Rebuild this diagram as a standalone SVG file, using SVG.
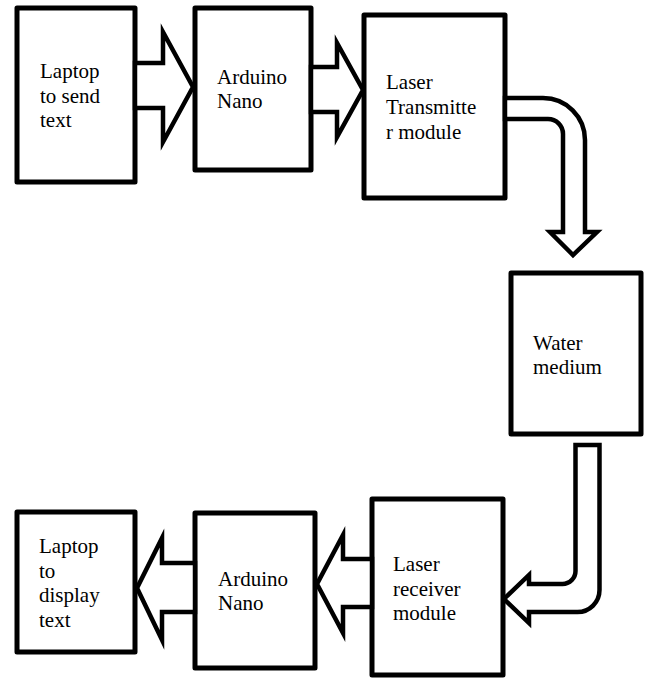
<svg xmlns="http://www.w3.org/2000/svg" width="646" height="679" viewBox="0 0 646 679" font-family="'Liberation Serif', 'Times New Roman', serif" font-size="21">
<style>
.box{fill:#fff;stroke:#000;stroke-width:5;stroke-linejoin:round}
.arr{fill:#fff;stroke:#000;stroke-width:4.5;stroke-linejoin:miter;stroke-miterlimit:10}
.t{font-family:'Liberation Serif','Times New Roman',serif;font-size:21px;fill:#000}
</style>
<rect width="646" height="679" fill="#fff"/>
<g id="node-laptop-send"><rect class="box" x="17" y="8" width="118" height="174"/>
<text class="t" x="40" y="78">Laptop</text><text class="t" x="40" y="102.5">to send</text><text class="t" x="40" y="127">text</text></g>
<g id="node-arduino-1"><rect class="box" x="195" y="8" width="116" height="162"/>
<text class="t" x="217" y="84">Arduino</text><text class="t" x="217" y="108">Nano</text></g>
<g id="node-laser-tx"><rect class="box" x="364" y="15" width="141" height="183"/>
<text class="t" x="386" y="89">Laser</text><text class="t" x="386" y="114">Transmitte</text><text class="t" x="386" y="139">r module</text></g>
<g id="node-water"><rect class="box" x="511" y="273" width="130" height="161"/>
<text class="t" x="533" y="350">Water</text><text class="t" x="533" y="374">medium</text></g>
<g id="node-laser-rx"><rect class="box" x="372" y="499" width="131" height="176"/>
<text class="t" x="393" y="571">Laser</text><text class="t" x="393" y="595.5">receiver</text><text class="t" x="393" y="620">module</text></g>
<g id="node-arduino-2"><rect class="box" x="195" y="513" width="120" height="155"/>
<text class="t" x="218" y="586">Arduino</text><text class="t" x="218" y="610">Nano</text></g>
<g id="node-laptop-display"><rect class="box" x="17" y="512" width="118" height="140"/>
<text class="t" x="39" y="553">Laptop</text><text class="t" x="39" y="577.5">to</text><text class="t" x="39" y="602">display</text><text class="t" x="39" y="627">text</text></g>
<g id="connectors">
<path class="arr" d="M135,63 H163 V32 L193,87 L163,142 V108 H135 Z"/>
<path class="arr" d="M311,67 H337 V43 L363,90 L337,137 V112 H311 Z"/>
<path class="arr" d="M505,98 H543 A42,42 0 0 1 585,140 V232 H597 L573,255 L550,232 H563 V134 A15,15 0 0 0 548,119 H505 Z"/>
<path class="arr" d="M575.5,445 H599.5 V590 A22,22 0 0 1 577.5,612 H529 V623 L504,599 L529,575 V584 H562.5 A13,13 0 0 0 575.5,571 Z"/>
<path class="arr" d="M372,559 H343 V535 L317,584 L343,633 V607 H372 Z"/>
<path class="arr" d="M195,563 H162 V538 L137,588 L162,640 V612 H195 Z"/>
</g>
</svg>
